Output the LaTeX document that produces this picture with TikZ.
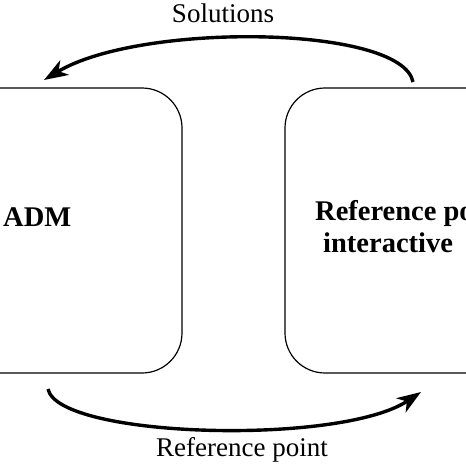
\documentclass[tikz,border=0pt]{standalone}
\usepackage{fontspec}
\setmainfont{Liberation Serif}
\usetikzlibrary{arrows.meta,positioning}
\tikzset{
  dmbox/.style={draw, line width=1.2pt, rounded corners=40pt, inner sep=0pt},
  flow/.style={line width=3.4pt, -{Stealth[length=24pt,width=17pt,inset=7pt]}},
  lbl/.style={font=\fontsize{27}{30}\selectfont, inner sep=0pt},
  big/.style={font=\bfseries\fontsize{28.5}{30}\selectfont, inner sep=0pt, anchor=west}
}
\begin{document}
\begin{tikzpicture}[x=1pt,y=-1pt]
\useasboundingbox (0,0) rectangle (466,466);
\clip (0,0) rectangle (466,466);
\node[dmbox, minimum width=232pt, minimum height=285pt] (adm) at (66,230.5) {};
\node[dmbox, minimum width=235pt, minimum height=285pt] (rpm) at (402.5,230.5) {};
\node[big] (admtxt) at (3,217) {ADM};
\node[big] (rptxt) at (315,213) {Reference po};
\node[big] (inttxt) at (323,243) {interactive};
\coordinate (s1) at (413,82);
\coordinate (s2) at (44,80);
\coordinate (r1) at (48,389);
\coordinate (r2) at (421,392);
\draw[flow] (s1) .. controls (402,25) and (140,22) .. (s2);
\draw[flow] (r1) .. controls (58,438) and (340,446) .. (r2);
\node[lbl] (sol) at (223,13) {Solutions};
\node[lbl] (refp) at (242,450) {Reference point};
\end{tikzpicture}
\end{document}
